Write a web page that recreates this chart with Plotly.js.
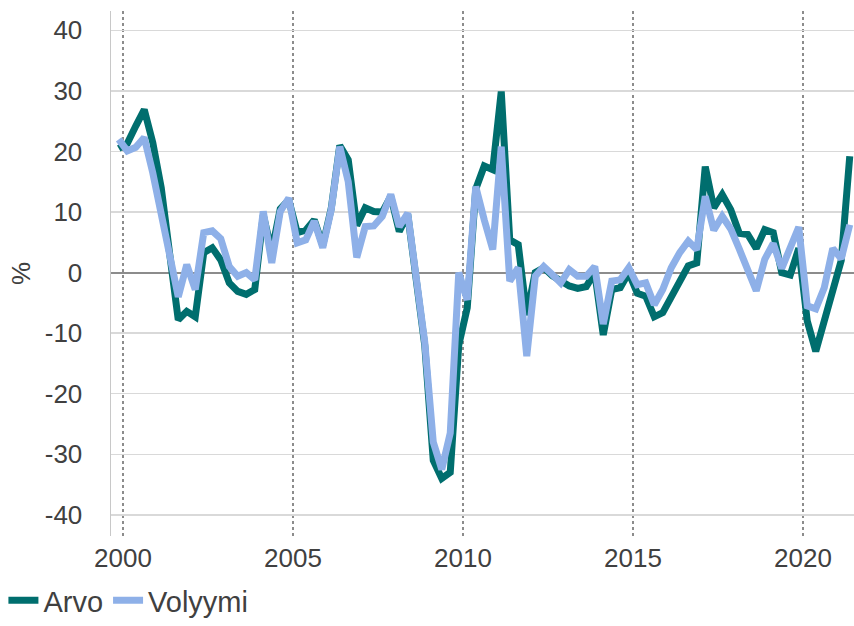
<!DOCTYPE html>
<html>
<head>
<meta charset="utf-8">
<script src="https://cdn.plot.ly/plotly-3.0.1.min.js"></script>
<style>html,body{margin:0;padding:0;background:#fff;}#chart{width:854px;height:626px;}</style>
</head>
<body>
<div id="chart"></div>
<script>
// Quarterly series, first quarter = 2000Q1 (index 0) .. 2021Q3 (index 86)
const startYear = 2000;
const seriesNames = ["Arvo", "Volyymi"];
const arvo = [
  20.5, 21.3, 24.2, 26.9, 21.5, 14, 3, -7.8, -6.4, -7.3,
  3.3, 4.1, 2.1, -1.7, -3.1, -3.6, -2.8, 9.5, 3.5, 10.5,
  12, 6.6, 7.0, 8.7, 4.5, 10.6, 21, 18.6, 7.8, 10.7,
  10.1, 10, 12.6, 6.8, 9.6, -1.5, -12, -31, -34, -33,
  -12, -5.8, 13.8, 17.6, 17, 29.9, 5.4, 4.6, -7, 0,
  0.8, -0.5, -1.5, -2.2, -2.6, -2.3, 0, -10.3, -2.8, -2.5,
  0, -3.4, -3.9, -7.3, -6.6, -4, -1.2, 1.1, 1.6, 17.5,
  10.7, 12.9, 10.4, 6.5, 6.3, 4, 7.1, 6.6, 0, -0.4,
  4, -8, -13, -8, -3, 2, 19.2
];
const volyymi = [
  22, 20.1, 20.7, 22.3, 16.5, 9.5, 3.5, -4, 1.3, -2.8,
  6.6, 6.9, 5.6, 1, -0.6, 0, -1.2, 10.1, 1.6, 10.1,
  12.3, 4.9, 5.4, 8.5, 4.1, 10.4, 20.8, 15, 2.5, 7.6,
  7.7, 9.3, 12.9, 7.6, 9.8, -1, -11.5, -28, -32.5, -26.5,
  0, -4.5, 14.2, 8.7, 3.8, 20.8, -1.4, 0.8, -13.8, -0.6,
  1, -0.3, -1.7, 0.5, -0.6, -0.6, 1, -8.5, -1.4, -1.2,
  0.8, -2, -1.7, -5.3, -2.8, 0.8, 3.3, 5.2, 3.8, 12.6,
  7, 9.3, 7.2, 3.9, 0.6, -3, 2.2, 4.8, 0.7, 4.2,
  7.5, -5.5, -6, -2.5, 4, 2.3, 7.9
];
const xTickVals = [2000, 2005, 2010, 2015, 2020];
const xTickText = ["2000", "2005", "2010", "2015", "2020"];
const yTickVals = [-40, -30, -20, -10, 0, 10, 20, 30, 40];
const yTickText = ["-40", "-30", "-20", "-10", "0", "10", "20", "30", "40"];

// x position of each quarter (centre of category, Excel-style)
const xs = arvo.map((_, i) => startYear - 0.125 + i * 0.25);

const font = "Liberation Sans, Arial, sans-serif";
const textColor = "#404040";
const tickSize = 26;
const legendSize = 29;

const traces = [
  {x: xs, y: arvo, name: seriesNames[0], type: "scatter", mode: "lines",
   line: {color: "#006e6e", width: 7, shape: "linear"}},
  {x: xs, y: volyymi, name: seriesNames[1], type: "scatter", mode: "lines",
   line: {color: "#8eb0e8", width: 7, shape: "linear"}}
];

const layout = {
  width: 854, height: 626,
  margin: {l: 111, r: 0, t: 11, b: 90},
  paper_bgcolor: "#fff", plot_bgcolor: "#fff",
  font: {family: font, size: tickSize, color: textColor},
  showlegend: true,
  legend: {orientation: "h", xref: "container", yref: "container",
           x: 0.004, xanchor: "left", y: 0, yanchor: "bottom",
           font: {family: font, size: legendSize, color: textColor},
           itemwidth: 30, tracegroupgap: 0},
  xaxis: {
    range: [1999.647, 2021.5], automargin: false,
    tickvals: xTickVals, ticktext: xTickText,
    showgrid: true, gridcolor: "#8c8c8c", griddash: "dot", gridwidth: 1.5,
    zeroline: false, showline: false, ticks: "",
    ticklabelstandoff: 4,
    tickfont: {family: font, size: tickSize, color: textColor}
  },
  yaxis: {
    range: [-43.5, 43.2], automargin: false,
    tickvals: yTickVals, ticktext: yTickText,
    showgrid: true, gridcolor: "#d9d9d9", gridwidth: 1.5,
    zeroline: true, zerolinecolor: "#8c8c8c", zerolinewidth: 2,
    showline: true, linecolor: "#c8c8c8", linewidth: 1.5,
    ticks: "", ticklabelstandoff: 22,
    tickfont: {family: font, size: tickSize, color: textColor},
    title: {text: "%", standoff: 6, font: {family: font, size: tickSize, color: textColor}}
  }
};

Plotly.newPlot("chart", traces, layout, {displayModeBar: false, staticPlot: true});
</script>
</body>
</html>
